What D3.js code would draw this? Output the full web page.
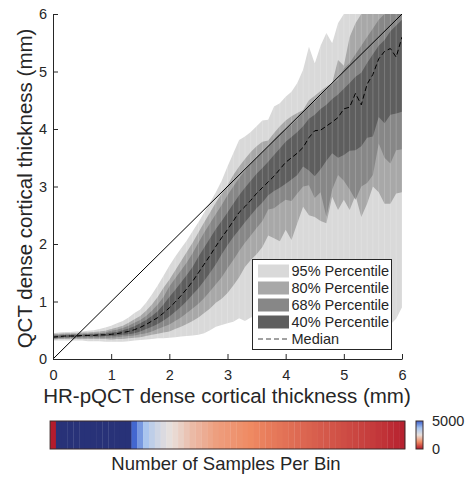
<!DOCTYPE html>
<html>
<head>
<meta charset="utf-8">
<script src="https://cdn.jsdelivr.net/npm/d3@7"></script>
<style>
  body { margin: 0; background: #fff; }
  text { font-family: "Liberation Sans", Arial, sans-serif; fill: #262626; }
</style>
</head>
<body>
<div id="chart"></div>
<script>
// bin centres (mm)
var xs = [0.0,0.1,0.2,0.3,0.4,0.5,0.6,0.7,0.8,0.9,
          1.0,1.1,1.2,1.3,1.4,1.5,1.6,1.7,1.8,1.9,
          2.0,2.1,2.2,2.3,2.4,2.5,2.6,2.7,2.8,2.9,
          3.0,3.1,3.2,3.3,3.4,3.5,3.6,3.7,3.8,3.9,
          4.0,4.1,4.2,4.3,4.4,4.5,4.6,4.7,4.8,4.9,
          5.0,5.1,5.2,5.3,5.4,5.5,5.6,5.7,5.8,5.9,
          6.0];

// percentiles of QCT thickness per bin
var p025 = [0.32,0.32,0.32,0.32,0.32,0.32,0.31,0.31,0.31,0.30,
            0.30,0.30,0.30,0.31,0.32,0.33,0.34,0.35,0.36,0.36,
            0.37,0.38,0.39,0.40,0.41,0.42,0.45,0.50,0.56,0.59,
            0.62,0.65,0.71,0.66,0.72,0.75,0.70,0.78,0.82,0.76,
            0.85,0.80,0.88,0.92,0.84,0.95,0.90,1.00,0.92,0.98,
            1.05,0.95,1.02,0.90,1.00,0.95,0.85,0.92,0.60,0.70,
            0.90];
var p10  = [0.34,0.35,0.35,0.35,0.35,0.35,0.35,0.35,0.35,0.35,
            0.34,0.35,0.35,0.36,0.37,0.38,0.40,0.42,0.44,0.46,
            0.48,0.52,0.56,0.61,0.66,0.72,0.80,0.88,0.98,1.05,
            1.15,1.28,1.42,1.60,1.72,1.82,1.95,2.15,2.10,2.05,
            2.25,2.07,2.36,2.65,2.50,2.47,2.40,2.36,2.82,2.59,
            2.77,2.59,2.85,2.47,2.70,3.00,2.90,2.70,2.70,2.88,
            2.90];
var p16  = [0.35,0.36,0.36,0.37,0.37,0.37,0.37,0.37,0.37,0.37,
            0.37,0.38,0.39,0.40,0.41,0.43,0.45,0.48,0.52,0.56,
            0.60,0.66,0.72,0.80,0.88,0.96,1.06,1.18,1.30,1.42,
            1.58,1.72,1.88,2.02,2.15,2.28,2.40,2.60,2.62,2.70,
            2.77,2.75,2.88,3.00,3.02,2.80,2.90,2.47,2.95,3.20,
            3.10,2.95,2.77,3.00,3.06,3.20,3.75,3.50,3.40,3.63,
            3.65];
var p30  = [0.37,0.37,0.38,0.38,0.38,0.39,0.39,0.39,0.39,0.40,
            0.40,0.41,0.42,0.43,0.45,0.48,0.52,0.56,0.61,0.67,
            0.74,0.82,0.91,1.01,1.12,1.23,1.36,1.50,1.65,1.82,
            1.98,2.12,2.25,2.38,2.50,2.62,2.72,2.85,2.92,2.98,
            3.05,3.12,3.20,3.35,3.28,3.18,3.30,3.45,3.58,3.50,
            3.55,3.62,3.63,3.70,3.85,3.87,4.21,4.10,4.25,4.27,
            4.30];
var p50  = [0.38,0.39,0.40,0.40,0.40,0.41,0.41,0.41,0.42,0.42,
            0.43,0.44,0.46,0.48,0.51,0.55,0.60,0.66,0.72,0.80,
            0.89,0.99,1.10,1.22,1.35,1.50,1.65,1.80,1.96,2.11,
            2.25,2.40,2.55,2.65,2.76,2.88,2.98,3.08,3.18,3.30,
            3.42,3.50,3.58,3.68,3.85,3.97,3.98,4.05,4.12,4.20,
            4.35,4.38,4.62,4.42,4.78,4.95,5.22,5.35,5.40,5.25,
            5.60];
var p70  = [0.40,0.41,0.41,0.42,0.42,0.42,0.43,0.43,0.44,0.44,
            0.46,0.47,0.50,0.53,0.57,0.62,0.68,0.75,0.83,0.95,
            1.08,1.20,1.33,1.46,1.60,1.78,1.94,2.10,2.26,2.40,
            2.55,2.70,2.85,2.98,3.10,3.22,3.32,3.43,3.55,3.66,
            3.78,3.86,3.95,4.05,4.18,4.25,4.35,4.42,4.52,4.60,
            4.70,4.80,4.91,4.98,5.15,5.30,5.45,5.55,5.70,5.80,
            5.90];
var p84  = [0.42,0.42,0.43,0.43,0.43,0.44,0.44,0.45,0.45,0.46,
            0.49,0.51,0.54,0.58,0.63,0.68,0.75,0.84,0.95,1.08,
            1.26,1.40,1.54,1.68,1.84,2.02,2.20,2.36,2.52,2.68,
            2.85,3.00,3.15,3.28,3.40,3.50,3.60,3.69,3.82,3.92,
            4.00,4.08,4.18,4.30,4.40,4.48,4.58,4.68,4.78,4.86,
            5.05,5.15,5.30,5.45,5.60,5.75,5.90,6.00,6.00,6.00,
            6.00];
var p90  = [0.44,0.44,0.45,0.45,0.45,0.46,0.46,0.47,0.48,0.49,
            0.52,0.55,0.58,0.63,0.69,0.75,0.84,0.95,1.08,1.24,
            1.38,1.54,1.70,1.86,2.02,2.20,2.38,2.55,2.72,2.88,
            3.02,3.20,3.35,3.48,3.60,3.70,3.78,3.80,3.93,4.05,
            4.15,4.22,4.28,4.33,4.50,4.58,4.66,4.74,4.80,5.20,
            5.10,5.60,5.84,6.00,6.00,6.00,6.00,6.00,6.00,6.00,
            6.00];
var p975 = [0.45,0.46,0.47,0.47,0.48,0.48,0.49,0.50,0.52,0.55,
            0.58,0.62,0.66,0.72,0.80,0.86,0.98,1.12,1.28,1.45,
            1.62,1.78,1.92,2.06,2.22,2.38,2.55,2.72,2.90,3.10,
            3.35,3.58,3.81,3.87,3.95,4.05,4.15,4.16,4.39,4.45,
            4.56,4.65,4.80,5.03,5.43,5.14,5.45,5.67,5.49,5.84,
            6.00,6.00,6.00,6.00,6.00,6.00,6.00,6.00,6.00,6.00,
            6.00];

// samples per bin
var binCounts = [40,
            12000,15000,16000,16000,15500,15000,14000,13000,12000,
            11000,10000,9000,7500,4900,4300,3700,3300,3000,2750,
            2550,2400,2250,2100,1950,1850,1750,1650,1550,1500,
            1450,1400,1350,1300,1250,1200,1150,1100,1060,1020,
            980,940,900,860,820,780,740,700,660,620,
            580,540,500,460,420,380,330,280,220,160,
            100];

var axisTicks = [0, 1, 2, 3, 4, 5, 6];
var bandLabels = ['95% Percentile', '80% Percentile', '68% Percentile', '40% Percentile'];
var medianLabel = 'Median';
var cbStops = [0, 1250, 2500, 3750, 5000];
var cbTickLabels = [0, 5000];

(function(){
  'use strict';

  var svg = d3.select('#chart').append('svg')
    .attr('width', 472)
    .attr('height', 479);

  var x = d3.scaleLinear().domain([0, 6]).range([53, 402]);
  var y = d3.scaleLinear().domain([0, 6]).range([359, 14]);

  var cmap = d3.scaleLinear()
    .domain(cbStops)
    .range(['#b2182b', '#ef8a62', '#e8e0dc', '#a7c4ef', '#3a5fcd'])
    .clamp(true);

  function binColor(c) {
    if (c > 5000) return '#283278';
    return cmap(c);
  }

  svg.append('clipPath').attr('id', 'plotclip')
    .append('rect')
    .attr('x', x(0)).attr('y', y(6))
    .attr('width', x(6) - x(0)).attr('height', y(0) - y(6));

  var bands = [
    {lo: p025, hi: p975, color: '#d9d9d9'},
    {lo: p10,  hi: p90,  color: '#a8a8a8'},
    {lo: p16,  hi: p84,  color: '#878787'},
    {lo: p30,  hi: p70,  color: '#5e5e5e'}
  ];

  var plot = svg.append('g').attr('clip-path', 'url(#plotclip)');

  bands.forEach(function(b) {
    var area = d3.area()
      .x(function(d) { return x(d); })
      .y0(function(d, i) { return y(b.lo[i]); })
      .y1(function(d, i) { return y(b.hi[i]); });
    plot.append('path')
      .datum(xs)
      .attr('d', area)
      .attr('fill', b.color);
  });

  // faint bin edges
  plot.selectAll('.stripe')
    .data(xs)
    .enter()
    .append('line')
    .attr('class', 'stripe')
    .attr('x1', function(d) { return x(d); })
    .attr('x2', function(d) { return x(d); })
    .attr('y1', function(d, i) { return y(p025[i]); })
    .attr('y2', function(d, i) { return y(p975[i]); })
    .style('stroke', '#fff')
    .style('stroke-opacity', 0.18)
    .style('stroke-width', 1);

  // identity line
  plot.append('line')
    .attr('x1', x(0)).attr('y1', y(0))
    .attr('x2', x(6)).attr('y2', y(6))
    .style('stroke', '#000')
    .style('stroke-width', 1);

  var medLine = d3.line()
    .x(function(d) { return x(d); })
    .y(function(d, i) { return y(p50[i]); });

  plot.append('path')
    .datum(xs)
    .attr('d', medLine)
    .style('fill', 'none')
    .style('stroke', '#000')
    .style('stroke-width', 1)
    .style('stroke-dasharray', '5,3');

  // axes
  var xAxis = d3.axisBottom(x)
    .tickValues(axisTicks)
    .tickFormat(d3.format('d'))
    .tickSizeInner(-5)
    .tickSizeOuter(0)
    .tickPadding(11);

  var yAxis = d3.axisLeft(y)
    .tickValues(axisTicks)
    .tickFormat(d3.format('d'))
    .tickSizeInner(-5)
    .tickSizeOuter(0)
    .tickPadding(6);

  var gx = svg.append('g')
    .attr('transform', 'translate(0,' + y(0) + ')')
    .call(xAxis);
  var gy = svg.append('g')
    .attr('transform', 'translate(' + x(0) + ',0)')
    .call(yAxis);

  [gx, gy].forEach(function(g) {
    g.select('.domain').style('stroke', '#262626');
    g.selectAll('.tick line').style('stroke', '#262626');
    g.selectAll('.tick text').style('font-size', '14.5px').style('fill', '#262626')
      .style('font-family', '"Liberation Sans", Arial, sans-serif');
  });

  svg.append('text')
    .attr('transform', 'translate(31.5,188.5) rotate(-90)')
    .attr('text-anchor', 'middle')
    .style('font-size', '20.5px')
    .text('QCT dense cortical thickness (mm)');

  svg.append('text')
    .attr('x', 227).attr('y', 403)
    .attr('text-anchor', 'middle')
    .style('font-size', '20.5px')
    .text('HR-pQCT dense cortical thickness (mm)');

  // legend
  var lg = svg.append('g');
  lg.append('rect')
    .attr('x', 252.5).attr('y', 259.5)
    .attr('width', 139).attr('height', 90)
    .style('fill', '#fff')
    .style('stroke', '#262626')
    .style('stroke-width', 1);

  var rowY = d3.scalePoint().domain(d3.range(5)).range([271, 339]);

  bands.forEach(function(b, i) {
    lg.append('rect')
      .attr('x', 258).attr('y', rowY(i) - 6.5)
      .attr('width', 31).attr('height', 13)
      .style('fill', b.color);
    lg.append('text')
      .attr('x', 291.5).attr('y', rowY(i) + 5)
      .style('font-size', '14.5px')
      .text(bandLabels[i]);
  });

  lg.append('line')
    .attr('x1', 258).attr('x2', 289)
    .attr('y1', rowY(4)).attr('y2', rowY(4))
    .style('stroke', '#444')
    .style('stroke-width', 1)
    .style('stroke-dasharray', '5,3');
  lg.append('text')
    .attr('x', 291.5).attr('y', rowY(4) + 5)
    .style('font-size', '14.5px')
    .text(medianLabel);

  // colour bar of sample counts
  var cb = svg.append('g');
  cb.selectAll('.bin')
    .data(binCounts)
    .enter()
    .append('rect')
    .attr('class', 'bin')
    .attr('x', function(d, i) { return x(xs[i] - 0.05); })
    .attr('y', 421)
    .attr('width', function(d, i) { return x(xs[i] + 0.05) - x(xs[i] - 0.05) + 0.3; })
    .attr('height', 28)
    .style('fill', function(d) { return binColor(d); });

  cb.append('rect')
    .attr('x', x(-0.05)).attr('y', 421)
    .attr('width', x(6.05) - x(-0.05)).attr('height', 28)
    .style('fill', 'none')
    .style('stroke', '#3a2a2a')
    .style('stroke-width', 1);

  svg.append('text')
    .attr('x', 226).attr('y', 470)
    .attr('text-anchor', 'middle')
    .style('font-size', '18.5px')
    .text('Number of Samples Per Bin');

  // small colour scale key
  var grad = svg.append('defs').append('linearGradient')
    .attr('id', 'cbgrad')
    .attr('x1', 0).attr('y1', 1).attr('x2', 0).attr('y2', 0);
  cbStops.forEach(function(s) {
    grad.append('stop')
      .attr('offset', s / 5000)
      .attr('stop-color', cmap(s));
  });

  var ky = d3.scaleLinear().domain([0, 5000]).range([449, 421]);
  svg.append('rect')
    .attr('x', 416).attr('y', ky(5000))
    .attr('width', 7).attr('height', ky(0) - ky(5000))
    .style('fill', 'url(#cbgrad)')
    .style('stroke', '#3a2a2a')
    .style('stroke-width', 1);

  svg.selectAll('.cbtick')
    .data(cbTickLabels)
    .enter()
    .append('text')
    .attr('class', 'cbtick')
    .attr('x', 432)
    .attr('y', function(d) { return ky(d) + 5; })
    .style('font-size', '14.5px')
    .text(function(d) { return d; });

}());
</script>
</body>
</html>
